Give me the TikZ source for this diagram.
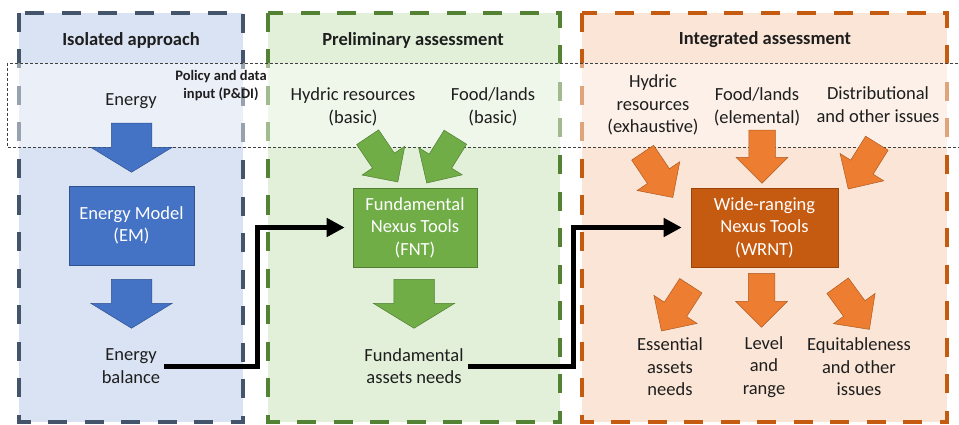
\documentclass[tikz,border=0pt]{standalone}
\usepackage{fontspec}
\setmainfont{Carlito}
\usetikzlibrary{shapes.arrows,arrows.meta}

\definecolor{txt}{HTML}{1E1E1E}
\definecolor{isoline}{HTML}{44546A}
\definecolor{isofill}{HTML}{DAE3F3}
\definecolor{preline}{HTML}{548235}
\definecolor{prefill}{HTML}{E2F0D9}
\definecolor{intline}{HTML}{C55A11}
\definecolor{intfill}{HTML}{FBE5D6}
\definecolor{emblue}{HTML}{4472C4}
\definecolor{emedge}{HTML}{2F528F}
\definecolor{fntgreen}{HTML}{70AD47}
\definecolor{fntedge}{HTML}{507E32}
\definecolor{wrntbox}{HTML}{C55A11}
\definecolor{wrntedge}{HTML}{9A440C}
\definecolor{arrorange}{HTML}{ED7D31}
\definecolor{arredge}{HTML}{AE5A21}

\tikzset{
  column/.style={line width=4pt, dash pattern=on 19pt off 17.5pt},
  band/.style={draw=black!75, line width=0.8pt, dash pattern=on 3pt off 2pt, fill=white, fill opacity=0.45},
  lbl/.style={align=center, inner sep=2pt},
  title/.style={font=\fontsize{18.5}{22.5}\selectfont\bfseries},
  policy/.style={align=center, inner sep=1pt, font=\fontsize{14.5}{18}\selectfont\bfseries},
  toolbox/.style={align=center, minimum height=79pt, inner sep=0pt, line width=0.6pt, text=white},
  bigarrow/.style={single arrow, inner sep=0pt, inner ysep=20pt, minimum height=49pt,
    single arrow head extend=20.5pt, single arrow tip angle=117, anchor=tail, rotate=-90, line width=0.5pt},
  smallarrow/.style={single arrow, inner sep=0pt, inner ysep=13pt, minimum height=54pt,
    single arrow head extend=12.5pt, single arrow tip angle=90, anchor=tail, line width=0.5pt,
    fill=arrorange, draw=arredge},
  flow/.style={line width=5pt, -{Triangle[length=18pt,width=18pt]}}
}

\begin{document}
\begin{tikzpicture}[x=1pt, y=-1pt,
  every node/.style={font=\fontsize{18.5}{22.5}\selectfont, text=txt}]
  \useasboundingbox (0,0) rectangle (959,425);

  % the three stages
  \draw[column, draw=isoline, fill=isofill] (19,13) rectangle (243,422);
  \draw[column, draw=preline, fill=prefill] (268,13) rectangle (560,422);
  \draw[column, draw=intline, fill=intfill] (582,13) rectangle (947,422);

  % policy and data input band
  \draw[band] (7,63) rectangle (966,147);

  \node[title] (isotitle) at (131,40) {Isolated approach};
  \node[title] (pretitle) at (413,40) {Preliminary assessment};
  \node[title] (inttitle) at (765,40) {Integrated assessment};
  \node[policy] (pdi) at (221,86) {Policy and data\\input (P\&DI)};

  % isolated approach
  \node[lbl] (energy) at (131,101) {Energy};
  \node[toolbox, fill=emblue, draw=emedge, minimum width=125pt] (em) at (131.5,225.5) {Energy Model\\(EM)};
  \node[lbl] (balance) at (131,366) {Energy\\balance};
  \node[bigarrow, fill=emblue, draw=emedge] (emin) at (131.5,123) {};
  \node[bigarrow, fill=emblue, draw=emedge] (emout) at (131.5,279) {};

  % preliminary assessment
  \node[lbl] (hydbasic) at (353,107) {Hydric resources\\(basic)};
  \node[lbl] (foodbasic) at (493,107) {Food/lands\\(basic)};
  \node[toolbox, fill=fntgreen, draw=fntedge, minimum width=124pt] (fnt) at (415,227.5) {Fundamental\\Nexus Tools\\(FNT)};
  \node[lbl] (fneeds) at (414,366) {Fundamental\\assets needs};
  \node[smallarrow, fill=fntgreen, draw=fntedge, rotate=-56] (hydin) at (367.5,137) {};
  \node[smallarrow, fill=fntgreen, draw=fntedge, rotate=-122] (foodin) at (455.5,137) {};
  \node[bigarrow, fill=fntgreen, draw=fntedge] (fntout) at (414,279) {};

  % integrated assessment
  \node[lbl] (hydex) at (653,105) {Hydric\\resources\\(exhaustive)};
  \node[lbl] (foodel) at (757,107) {Food/lands\\(elemental)};
  \node[lbl] (distr) at (878,104.5) {Distributional\\and other issues};
  \node[toolbox, fill=wrntbox, draw=wrntedge, minimum width=147pt] (wrnt) at (764.5,227.5) {Wide-ranging\\Nexus Tools\\(WRNT)};
  \node[lbl] (essential) at (670,367) {Essential\\assets\\needs};
  \node[lbl] (level) at (764,367) {Level\\and\\range};
  \node[lbl] (equit) at (859,367) {Equitableness\\and other\\issues};
  \node[smallarrow, rotate=-56] (hydexin) at (642.5,152.5) {};
  \node[smallarrow, rotate=-90, minimum height=53pt] (foodelin) at (762,130) {};
  \node[smallarrow, rotate=-122] (distrin) at (877,143) {};
  \node[smallarrow, rotate=-123] (essout) at (691,285.5) {};
  \node[smallarrow, rotate=-90] (levout) at (761.5,273) {};
  \node[smallarrow, rotate=-54] (equout) at (837.5,285.5) {};

  % links between stages
  \coordinate (bend1) at (257,300);
  \coordinate (bend2) at (573,300);
  \draw[flow, shorten <=2pt, shorten >=8pt] (balance.east) -| (bend1) |- (fnt.west);
  \draw[flow, shorten <=2pt, shorten >=9pt] (fneeds.east) -| (bend2) |- (wrnt.west);
\end{tikzpicture}
\end{document}
